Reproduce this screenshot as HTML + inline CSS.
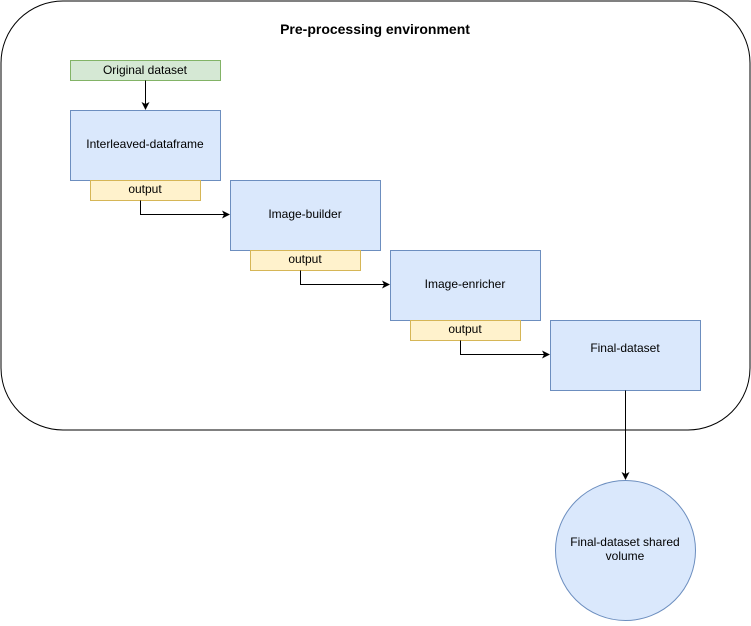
<!DOCTYPE html>
<html><head><meta charset="utf-8"><style>
html,body{margin:0;padding:0;background:#fff;}
svg text{font-family:"Liberation Sans",Helvetica,Arial,sans-serif;font-size:12px;fill:#000;}
</style></head><body>
<svg width="751" height="621" viewBox="0 0 751 621" xmlns="http://www.w3.org/2000/svg">
<defs><marker id="a" markerWidth="10" markerHeight="10" refX="8" refY="5" orient="auto" markerUnits="userSpaceOnUse"><path d="M1,1 L9,5 L1,9 L3,5 Z" fill="#000"/></marker></defs>
<rect x="1" y="1" width="749" height="429" rx="62" ry="62" fill="#fff" stroke="#000" stroke-width="1"/>
<text x="375" y="34" text-anchor="middle" style="font-weight:bold;font-size:14px">Pre-processing environment</text>

<rect x="70.5" y="60.5" width="150" height="20" fill="#d5e8d4" stroke="#82b366"/>
<text x="145" y="74" text-anchor="middle">Original dataset</text>
<line x1="145.5" y1="80.5" x2="145.5" y2="109" stroke="#000" marker-end="url(#a)"/>

<rect x="70.5" y="110.5" width="150" height="70" fill="#dae8fc" stroke="#6c8ebf"/>
<text x="145" y="148" text-anchor="middle">Interleaved-dataframe</text>
<rect x="90.5" y="180.5" width="110" height="20" fill="#fff2cc" stroke="#d6b656"/>
<text x="145" y="193" text-anchor="middle">output</text>
<path d="M140.5,200.5 V214.5 H229" fill="none" stroke="#000" marker-end="url(#a)"/>

<rect x="230.5" y="180.5" width="150" height="70" fill="#dae8fc" stroke="#6c8ebf"/>
<text x="305" y="218" text-anchor="middle">Image-builder</text>
<rect x="250.5" y="250.5" width="110" height="20" fill="#fff2cc" stroke="#d6b656"/>
<text x="305" y="263" text-anchor="middle">output</text>
<path d="M300.5,270.5 V284.5 H389" fill="none" stroke="#000" marker-end="url(#a)"/>

<rect x="390.5" y="250.5" width="150" height="70" fill="#dae8fc" stroke="#6c8ebf"/>
<text x="465" y="288" text-anchor="middle">Image-enricher</text>
<rect x="410.5" y="320.5" width="110" height="20" fill="#fff2cc" stroke="#d6b656"/>
<text x="465" y="333" text-anchor="middle">output</text>
<path d="M460.5,340.5 V354.5 H549" fill="none" stroke="#000" marker-end="url(#a)"/>

<rect x="550.5" y="320.5" width="150" height="70" fill="#dae8fc" stroke="#6c8ebf"/>
<text x="625" y="352" text-anchor="middle">Final-dataset</text>
<line x1="625.5" y1="390.5" x2="625.5" y2="479" stroke="#000" marker-end="url(#a)"/>

<circle cx="625.5" cy="550.5" r="70" fill="#dae8fc" stroke="#6c8ebf"/>
<text x="625" y="546" text-anchor="middle">Final-dataset shared</text>
<text x="625" y="560" text-anchor="middle">volume</text>
</svg>
</body></html>
